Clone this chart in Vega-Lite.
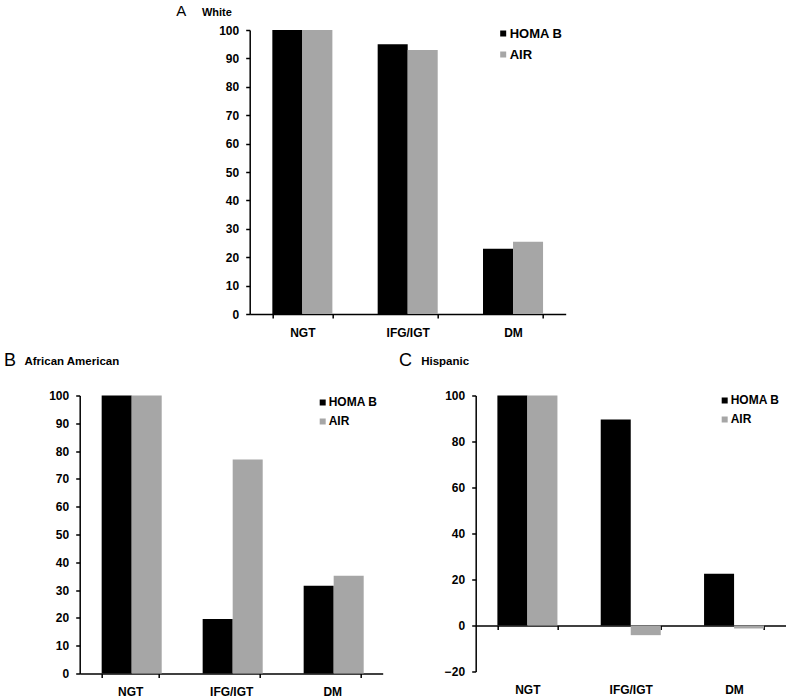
{
  "$schema": "https://vega.github.io/schema/vega-lite/v6.json",
  "autosize": {"type": "pad"},
  "padding": {"left": 2.7, "top": 3, "right": 0, "bottom": 0},
  "background": "white",
  "datasets": {
    "bars": [
      {"panel": "A", "group": "NGT", "measure": "HOMA B", "value": 100},
      {"panel": "A", "group": "NGT", "measure": "AIR", "value": 100},
      {"panel": "A", "group": "IFG/IGT", "measure": "HOMA B", "value": 95},
      {"panel": "A", "group": "IFG/IGT", "measure": "AIR", "value": 93},
      {"panel": "A", "group": "DM", "measure": "HOMA B", "value": 23},
      {"panel": "A", "group": "DM", "measure": "AIR", "value": 25.4},
      {"panel": "B", "group": "NGT", "measure": "HOMA B", "value": 100},
      {"panel": "B", "group": "NGT", "measure": "AIR", "value": 100},
      {"panel": "B", "group": "IFG/IGT", "measure": "HOMA B", "value": 19.6},
      {"panel": "B", "group": "IFG/IGT", "measure": "AIR", "value": 77},
      {"panel": "B", "group": "DM", "measure": "HOMA B", "value": 31.6},
      {"panel": "B", "group": "DM", "measure": "AIR", "value": 35.2},
      {"panel": "C", "group": "NGT", "measure": "HOMA B", "value": 100},
      {"panel": "C", "group": "NGT", "measure": "AIR", "value": 100},
      {"panel": "C", "group": "IFG/IGT", "measure": "HOMA B", "value": 89.6},
      {"panel": "C", "group": "IFG/IGT", "measure": "AIR", "value": -4.2},
      {"panel": "C", "group": "DM", "measure": "HOMA B", "value": 22.5},
      {"panel": "C", "group": "DM", "measure": "AIR", "value": -1.3}
    ]
  },
  "spacing": 13.5,
  "bounds": "full",
  "resolve": {"scale": {"color": "independent"}, "legend": {"color": "independent"}},
  "vconcat": [
    {
      "spacing": 93,
      "bounds": "flush",
      "resolve": {"scale": {"color": "independent"}, "legend": {"color": "independent"}},
      "hconcat": [
        {
          "width": 77, "height": 284,
          "data": {"values": [{}]},
          "mark": {"type": "text", "text": ""},
          "encoding": {}
        },
        {
          "width": 316, "height": 284,
          "data": {"name": "bars"},
          "transform": [{"filter": "datum.panel === 'A'"}],
          "mark": {"type": "bar"},
          "encoding": {
            "x": {"field": "group", "type": "nominal", "sort": ["NGT", "IFG/IGT", "DM"],
              "scale": {"paddingInner": 0.43, "paddingOuter": 0.215},
              "axis": {"title": "White", "titleX": -48.3, "titleY": -299, "titleAlign": "left", "titleBaseline": "alphabetic", "titleFontSize": 11, "titleFontWeight": "bold", "labelPadding": 9}},
            "xOffset": {"field": "measure", "type": "nominal", "sort": ["HOMA B", "AIR"], "scale": {"paddingInner": 0, "paddingOuter": 0}},
            "y": {"field": "value", "type": "quantitative", "scale": {"domain": [0, 100], "nice": false},
              "axis": {"values": [0, 10, 20, 30, 40, 50, 60, 70, 80, 90, 100], "title": "A", "titleAngle": 0, "titleX": -74, "titleY": -15, "titleAlign": "left", "titleBaseline": "alphabetic", "titleFontSize": 15, "titleFontWeight": "normal"}},
            "color": {"field": "measure", "type": "nominal", "scale": {"domain": ["HOMA B", "AIR"], "range": ["#000000", "#a6a6a6"]},
              "legend": {"title": null, "orient": "none", "legendX": 247, "legendY": -3, "labelFontSize": 13}}
          }
        }
      ]
    },
    {
      "spacing": 93,
      "bounds": "flush",
      "resolve": {"scale": {"color": "independent"}, "legend": {"color": "independent"}},
      "hconcat": [
        {
          "width": 303, "height": 278,
          "data": {"name": "bars"},
          "transform": [{"filter": "datum.panel === 'B'"}],
          "mark": {"type": "bar"},
          "encoding": {
            "x": {"field": "group", "type": "nominal", "sort": ["NGT", "IFG/IGT", "DM"],
              "scale": {"paddingInner": 0.435, "paddingOuter": 0.2175},
              "axis": {"title": "African American", "titleX": -55.7, "titleY": -308.5, "titleAlign": "left", "titleBaseline": "alphabetic", "titleFontSize": 11.5, "titleFontWeight": "bold", "labelPadding": 9}},
            "xOffset": {"field": "measure", "type": "nominal", "sort": ["HOMA B", "AIR"], "scale": {"paddingInner": 0, "paddingOuter": 0}},
            "y": {"field": "value", "type": "quantitative", "scale": {"domain": [0, 100], "nice": false},
              "axis": {"values": [0, 10, 20, 30, 40, 50, 60, 70, 80, 90, 100], "title": "B", "titleAngle": 0, "titleX": -76.3, "titleY": -29.8, "titleAlign": "left", "titleBaseline": "alphabetic", "titleFontSize": 18, "titleFontWeight": "normal"}},
            "color": {"field": "measure", "type": "nominal", "scale": {"domain": ["HOMA B", "AIR"], "range": ["#000000", "#a6a6a6"]},
              "legend": {"title": null, "orient": "none", "legendX": 237, "legendY": 1, "labelFontSize": 12}}
          }
        },
        {
          "width": 310, "height": 276,
          "data": {"name": "bars"},
          "transform": [{"filter": "datum.panel === 'C'"}],
          "mark": {"type": "bar"},
          "encoding": {
            "x": {"field": "group", "type": "nominal", "sort": ["NGT", "IFG/IGT", "DM"],
              "scale": {"paddingInner": 0.42, "paddingOuter": 0.21},
              "axis": {"offset": -46, "labelPadding": 55, "title": "Hispanic", "titleX": -55, "titleY": -260.5, "titleAlign": "left", "titleBaseline": "alphabetic", "titleFontSize": 11.5, "titleFontWeight": "bold"}},
            "xOffset": {"field": "measure", "type": "nominal", "sort": ["HOMA B", "AIR"], "scale": {"paddingInner": 0, "paddingOuter": 0}},
            "y": {"field": "value", "type": "quantitative", "scale": {"domain": [-20, 100], "nice": false},
              "axis": {"values": [-20, 0, 20, 40, 60, 80, 100], "title": "C", "titleAngle": 0, "titleX": -77.3, "titleY": -29.8, "titleAlign": "left", "titleBaseline": "alphabetic", "titleFontSize": 18, "titleFontWeight": "normal"}},
            "color": {"field": "measure", "type": "nominal", "scale": {"domain": ["HOMA B", "AIR"], "range": ["#000000", "#a6a6a6"]},
              "legend": {"title": null, "orient": "none", "legendX": 243, "legendY": -1, "labelFontSize": 12}}
          }
        }
      ]
    }
  ],
  "config": {
    "font": "Liberation Sans",
    "view": {"stroke": null},
    "axis": {
      "grid": false, "labelAngle": 0, "labelColor": "#000", "titleColor": "#000",
      "labelFont": "Liberation Sans", "titleFont": "Liberation Sans",
      "labelFontSize": 12, "labelFontWeight": "bold",
      "domainColor": "#000", "domainWidth": 1.5, "tickColor": "#000", "tickWidth": 1.5, "tickSize": 4,
      "labelPadding": 7
    },
    "axisX": {"tickBand": "extent"},
    "legend": {
      "labelFont": "Liberation Sans", "labelFontWeight": "bold", "labelColor": "#000",
      "symbolType": "square", "symbolSize": 36, "symbolStrokeWidth": 0,
      "labelOffset": 0, "padding": 0, "rowPadding": 7
    }
  }
}
